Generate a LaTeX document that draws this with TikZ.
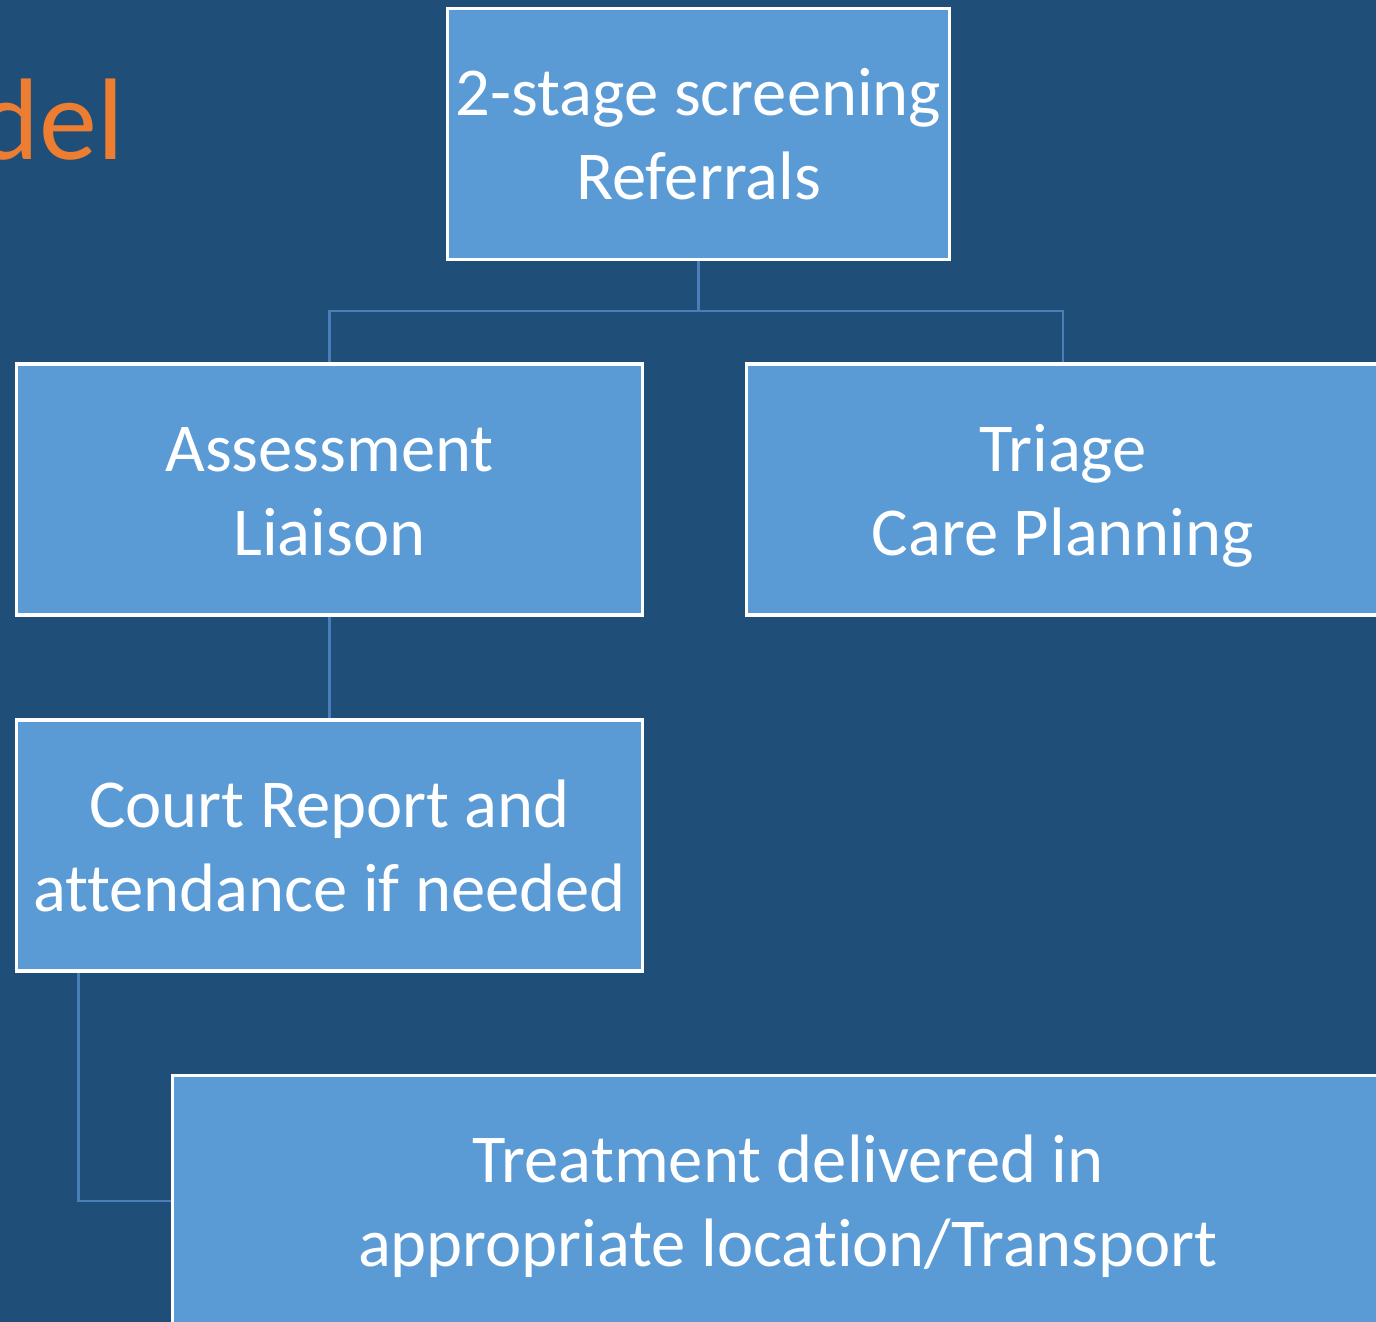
\documentclass[tikz,border=0pt]{standalone}
\usepackage{fontspec}
\setmainfont{Carlito}[RawFeature=-liga, RawFeature=-clig, RawFeature=-calt, RawFeature=-dlig, RawFeature=-rlig]
\usetikzlibrary{positioning,calc}

\definecolor{slide}{RGB}{31,78,121}
\definecolor{boxfill}{RGB}{91,155,213}
\definecolor{link}{RGB}{74,126,185}
\definecolor{titleorange}{RGB}{237,125,49}

% two lines with struts so every box puts its lines at the same height
\newcommand{\topstrut}{\rule{0pt}{17.4pt}}
\newcommand{\botstrut}{\rule[-3.9pt]{0pt}{3.9pt}}
\newcommand{\twolines}[2]{\topstrut#1\\#2\botstrut}

\tikzset{
    stage/.style={draw=white, line width=0.9pt, fill=boxfill, text=white,
        align=center, inner sep=0pt, minimum height=2.51cm,
        font=\fontsize{19.5}{24}\selectfont},
    link/.style={draw=link, line width=0.7pt}
}

\begin{document}
\begin{tikzpicture}[x=0.01cm, y=-0.01cm]

    % fundo
    \fill[slide] (0,0) rectangle (1376,1322);
    \useasboundingbox (0,0) rectangle (1376,1322);

    % título
    \node[anchor=base east, inner sep=0pt, text=titleorange,
        font=\fontsize{33}{40}\selectfont] (title) at (125,160) {del};

    % caixas
    \node[stage, minimum width=5.01cm] (screen) at (698.5,134) {\twolines{2-stage screening}{Referrals}};
    \node[stage, minimum width=6.25cm] (assess) at (329.5,489.5) {\twolines{Assessment}{Liaison}};
    \node[stage, minimum width=6.32cm] (triage) at (1063,489.5) {\twolines{Triage}{Care Planning}};
    \node[stage, minimum width=6.25cm] (court) at (329.5,845.5) {\twolines{Court Report and}{attendance if needed}};
    \node[stage, minimum width=12.30cm] (treat) at (788,1201) {\twolines{Treatment delivered in}{appropriate location/Transport}};

    % ligações
    \coordinate (bus) at (698.5,311);
    \draw[link] (screen.south) -- (bus) -| (assess.north);
    \draw[link] (bus) -| (triage.north);
    \draw[link] (assess.south) -- (court.north);
    \draw[link] ([xshift=0.63cm]court.south west) |- (treat.west);

\end{tikzpicture}
\end{document}
